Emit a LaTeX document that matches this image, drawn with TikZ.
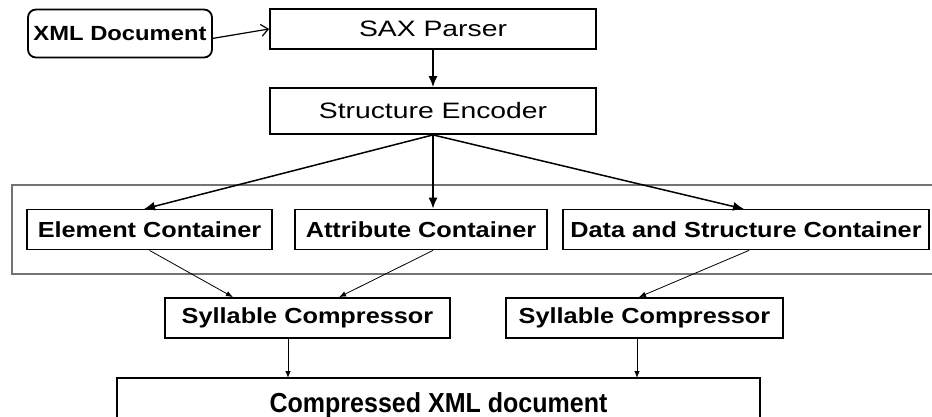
\documentclass[tikz,border=0pt]{standalone}
\usepackage{fontspec}
\setmainfont{Liberation Sans}
\newfontfamily\regwide{Liberation Sans}[FakeStretch=1.27]
\newfontfamily\boldwide{Liberation Sans}[FakeStretch=1.16]
\newfontfamily\boldnarrow{Liberation Sans}[FakeStretch=0.91]
\usepackage{tikz}
\usetikzlibrary{positioning, arrows.meta, calc}

\begin{document}
\begin{tikzpicture}[x=1pt,y=-1pt]
		\tikzstyle{box} = [draw, line width=1.8pt, inner sep=0, minimum height=40, text centered, font=\regwide\fontsize{22.3}{26}\selectfont]
		\tikzstyle{boldbox} = [box, font=\boldwide\bfseries\fontsize{21.8}{26}\selectfont]
		\tikzstyle{arrowthick} = [-{Latex[length=11,width=9]}, line width=1.5pt]
		\tikzstyle{arrowthin} = [-{Latex[length=7,width=5.5]}, line width=0.8pt]
		\useasboundingbox (0,0) rectangle (932,417);
		% containers sit inside one grey frame
		\draw [line width=1.2pt, black!55] (940,185) -- (12,185) -- (12,274) -- (940,274);
		\node [boldbox, rounded corners=8, minimum width=184, minimum height=48, font=\boldwide\bfseries\fontsize{20.5}{24}\selectfont] (xml) at (120,33.5) {XML Document};
		\node [box, minimum width=326] (sax) at (433,29) {SAX Parser};
		\node [box, minimum width=326, minimum height=46] (enc) at (433,111) {Structure Encoder};
		\node [boldbox, minimum width=245] (elem) at (149.5,229.5) {Element Container};
		\node [boldbox, minimum width=252] (attr) at (421,229.5) {Attribute Container};
		\node [boldbox, minimum width=366] (data) at (746,229.5) {Data and Structure Container};
		\node [boldbox, minimum width=285] (syl1) at (307.5,318) {Syllable Compressor};
		\node [boldbox, minimum width=277] (syl2) at (644.5,318) {Syllable Compressor};
		\node [boldbox, minimum width=643, minimum height=54, font=\boldnarrow\bfseries\fontsize{27.5}{32}\selectfont] (out) at (438.5,405) {Compressed XML document};
		\draw [-{Straight Barb[length=7,width=12]}, line width=1.2pt] (xml.-3) -- (sax.west);
		\draw [arrowthick] (sax) -- (enc);
		\draw [arrowthick] (enc.south) -- (144,209);
		\draw [arrowthick] (enc.south) -- (enc.south |- attr.north);
		\draw [arrowthick] (enc.south) -- (744,209);
		\coordinate (a1) at ($(syl1.north west)!0.24!(syl1.north east)$);
		\coordinate (a2) at ($(syl1.north west)!0.61!(syl1.north east)$);
		\coordinate (a3) at ($(syl2.north west)!0.48!(syl2.north east)$);
		\draw [arrowthin] (elem.south) -- (a1);
		\draw [arrowthin] (enc.south |- attr.south) -- (a2);
		\draw [arrowthin] ($(data.south)+(3,0)$) -- (a3);
		\coordinate (b1) at (288,378);
		\coordinate (b2) at (637,378);
		\draw [arrowthin] (syl1.south -| b1) -- (b1);
		\draw [arrowthin] (syl2.south -| b2) -- (b2);
\end{tikzpicture}
\end{document}
